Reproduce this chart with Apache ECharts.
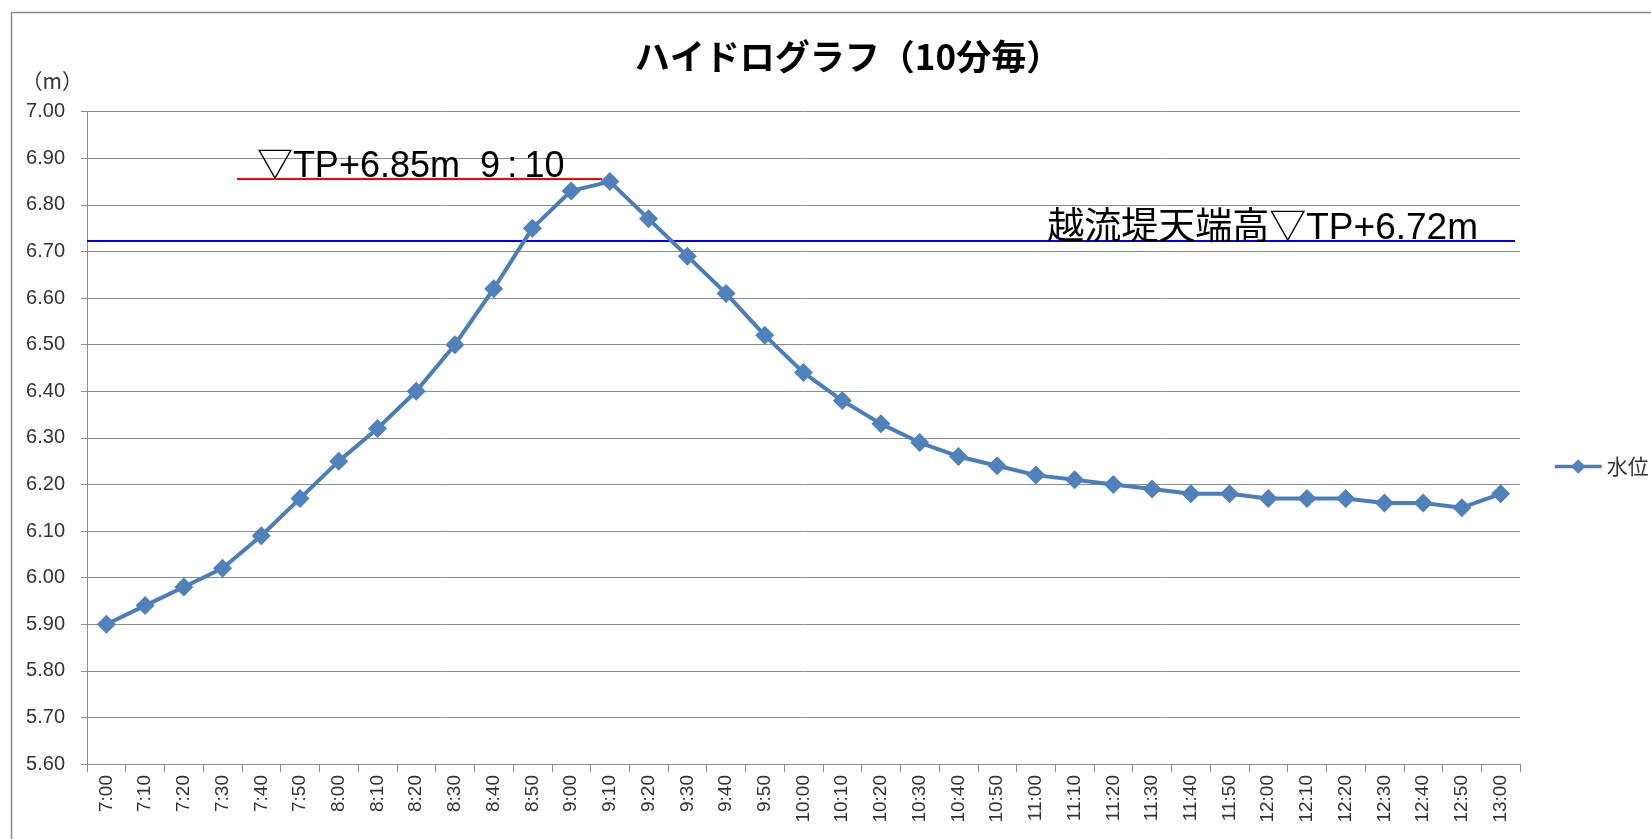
<!DOCTYPE html>
<html>
<head>
<meta charset="utf-8">
<script src="https://cdn.jsdelivr.net/npm/echarts@6/dist/echarts.min.js"></script>
<style>
html,body{margin:0;padding:0;background:#fff;}
#chart{width:1651px;height:839px;}
</style>
</head>
<body>
<div id="chart"></div>
<script>
// ---- data ----
const categories = ['7:00','7:10','7:20','7:30','7:40','7:50','8:00','8:10','8:20','8:30','8:40','8:50',
  '9:00','9:10','9:20','9:30','9:40','9:50','10:00','10:10','10:20','10:30','10:40','10:50',
  '11:00','11:10','11:20','11:30','11:40','11:50','12:00','12:10','12:20','12:30','12:40','12:50','13:00'];
const waterLevel = [5.90,5.94,5.98,6.02,6.09,6.17,6.25,6.32,6.40,6.50,6.62,6.75,
  6.83,6.85,6.77,6.69,6.61,6.52,6.44,6.38,6.33,6.29,6.26,6.24,
  6.22,6.21,6.20,6.19,6.18,6.18,6.17,6.17,6.17,6.16,6.16,6.15,6.18];
const seriesName = '水位';
const yMin = 5.6, yMax = 7.0, yStep = 0.1;
// annotation lines (x in category-index units, y in metres)
const peakLineX = [3.37, 12.8];
const peakLineY = 6.857;
const peakLabel = '▽TP+6.85m  9\u2009:\u200910';
const weirLineX = [-0.5, 36.37];
const weirLineY = 6.722;
const weirLabel = '越流堤天端高▽TP+6.72m';

const latin = "'Liberation Sans', 'Noto Sans CJK JP', sans-serif";
const cjk = "'Noto Sans CJK JP', 'Liberation Sans', sans-serif";
const gridColor = '#8c8c8c';
const textColor = '#333333';

const chart = echarts.init(document.getElementById('chart'));
chart.setOption({
  animation: false,
  backgroundColor: '#ffffff',
  graphic: [{
    type: 'rect',
    shape: { x: 11.5, y: 12.5, width: 1800, height: 1000 },
    style: { fill: 'none', stroke: '#8a8a8a', lineWidth: 1.5 },
    silent: true, z: -10
  }],
  title: {
    text: 'ハイドログラフ（10分毎）',
    left: 843, top: 34, textAlign: 'center',
    textStyle: { fontFamily: cjk, fontSize: 35, fontWeight: 'bold', color: '#000' }
  },
  legend: {
    orient: 'vertical',
    left: 1548, top: 451,
    itemWidth: 47, itemHeight: 18,
    data: [seriesName],
    lineStyle: { width: 3.5 },
    textStyle: { fontFamily: cjk, fontSize: 21, color: textColor }
  },
  grid: { left: 87, right: 131, top: 111.7, bottom: 75, containLabel: false },
  xAxis: [{
    type: 'category',
    data: categories,
    boundaryGap: true,
    axisLine: { show: true, onZero: false, lineStyle: { color: gridColor, width: 1 } },
    axisTick: { show: true, interval: 0, length: 8, lineStyle: { color: gridColor } },
    axisLabel: { interval: 0, rotate: 90, margin: 11, fontFamily: latin, fontSize: 19, color: textColor },
    splitLine: { show: false }
  }, {
    type: 'value',
    min: -0.5, max: 36.5,
    show: false
  }],
  yAxis: {
    type: 'value',
    min: yMin, max: yMax, interval: yStep,
    name: '（m）',
    nameLocation: 'end',
    nameGap: 20,
    nameTextStyle: { fontFamily: cjk, fontSize: 21, color: textColor, align: 'right', padding: [0, 4, 0, 0] },
    axisLine: { show: true, onZero: false, lineStyle: { color: gridColor, width: 1 } },
    axisTick: { show: true, length: 6, lineStyle: { color: gridColor } },
    axisLabel: { margin: 22, fontFamily: latin, fontSize: 20, color: textColor,
      formatter: v => v.toFixed(2) },
    splitLine: { show: true, lineStyle: { color: gridColor, width: 1 } }
  },
  series: [{
    name: seriesName,
    type: 'line',
    data: waterLevel,
    symbol: 'diamond',
    symbolSize: 19,
    lineStyle: { color: '#4A7EBB', width: 4 },
    itemStyle: { color: '#4F81BD' },
    z: 5
  }, {
    name: 'annotations',
    type: 'line',
    xAxisIndex: 1,
    data: [],
    symbol: 'none',
    silent: true,
    markLine: {
      symbol: ['none', 'none'],
      silent: true,
      data: [
        [
          { coord: [peakLineX[0], peakLineY], lineStyle: { color: '#FF0000', width: 2, type: 'solid' },
            label: { show: true, position: 'insideStartTop', formatter: peakLabel, distance: [20, -7],
              fontFamily: latin, fontSize: 36, color: '#000' } },
          { coord: [peakLineX[1], peakLineY] }
        ],
        [
          { coord: [weirLineX[0], weirLineY], lineStyle: { color: '#0000FF', width: 2, type: 'solid' },
            label: { show: true, position: 'insideEndTop', formatter: weirLabel, distance: [37, -6],
              fontFamily: latin, fontSize: 37, color: '#000' } },
          { coord: [weirLineX[1], weirLineY] }
        ]
      ]
    }
  }]
});
</script>
</body>
</html>
